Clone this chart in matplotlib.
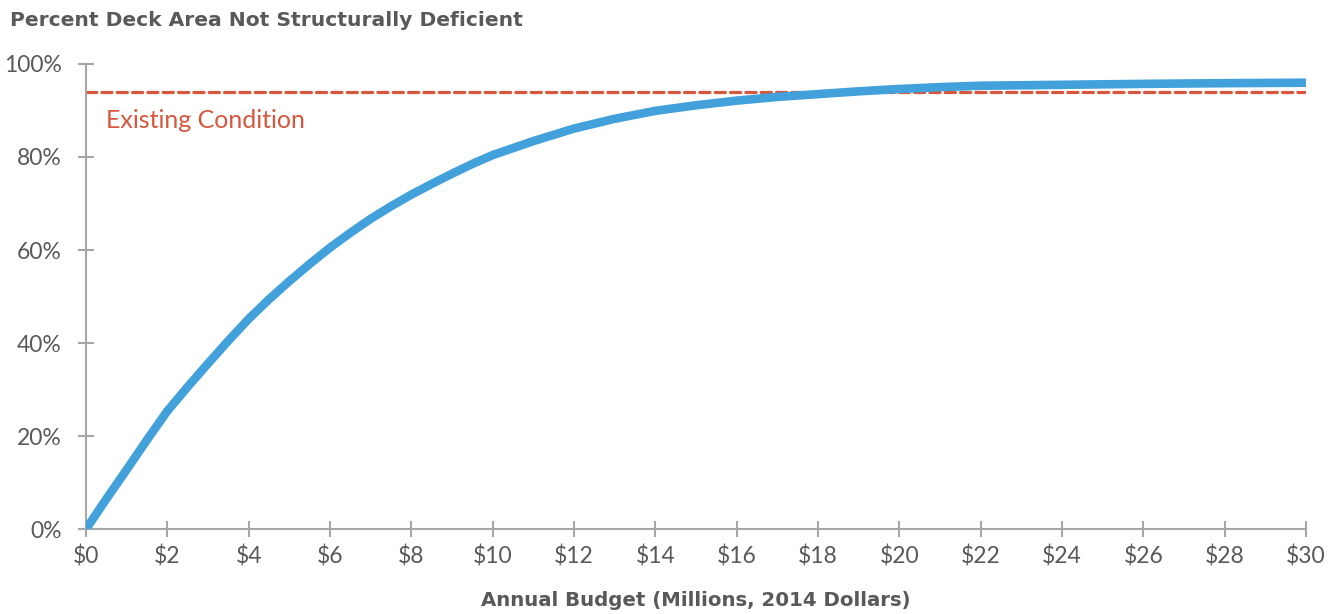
import numpy as np
import matplotlib.pyplot as plt

# budget in $M and percent of deck area not structurally deficient
budget = [0, 0.5, 1, 1.5, 2, 2.5, 3, 3.5, 4, 4.5, 5, 5.5, 6, 6.5, 7, 7.5, 8, 8.5, 9, 9.5,
          10, 11, 12, 13, 14, 15, 16, 17, 18, 19, 20, 21, 22, 24, 26, 28, 30]
pct_ok = [0, 6.5, 12.8, 19.2, 25.4, 30.6, 35.6, 40.5, 45.2, 49.4, 53.3, 57.0, 60.5, 63.7,
          66.7, 69.4, 71.9, 74.2, 76.4, 78.5, 80.4, 83.4, 86.1, 88.2, 89.9, 91.1, 92.1,
          92.9, 93.5, 94.1, 94.6, 95.0, 95.3, 95.5, 95.7, 95.85, 95.95]
existing = 94.0

xticks = list(range(0, 31, 2))
xlabels = ["$%d" % v for v in xticks]
yticks = [0, 20, 40, 60, 80, 100]
ylabels = ["%d%%" % v for v in yticks]

gray = "#595959"
axis_gray = "#a6a6a6"
blue = "#42a1db"
red = "#d6573d"

plt.rcParams['font.family'] = ['Lato', 'DejaVu Sans']

fig = plt.figure(figsize=(13.41, 6.14), dpi=100)
ax = fig.add_axes([0.0641, 0.138, 0.9099, 0.758])

ax.plot(budget, pct_ok, color=blue, lw=6.2, solid_capstyle='butt',
        solid_joinstyle='round', zorder=3)
ax.plot([0, 30], [existing, existing], color=red, lw=2.3,
        dashes=(3.2, 1.6), dash_capstyle='round', zorder=2)
ax.text(0.5, 87.8, "Existing Condition", color=red, fontsize=18, va='center', ha='left')

ax.set_xlim(0, 30)
ax.set_ylim(0, 100)
ax.set_xticks(xticks)
ax.set_xticklabels(xlabels)
ax.set_yticks(yticks)
ax.set_yticklabels(ylabels)

for s in ['top', 'right']:
    ax.spines[s].set_visible(False)
for s in ['left', 'bottom']:
    ax.spines[s].set_color(axis_gray)
    ax.spines[s].set_linewidth(1.5)
ax.tick_params(direction='inout', length=11, width=1.5, color=axis_gray,
               labelcolor=gray, labelsize=16.5)
ax.tick_params(axis='x', pad=6)
ax.tick_params(axis='y', pad=12)

fig.text(0.0075, 0.966, "Percent Deck Area Not Structurally Deficient", fontsize=14.6,
         fontweight='bold', color=gray, va='center', ha='left', family='DejaVu Sans')
fig.text(0.519, 0.022, "Annual Budget (Millions, 2014 Dollars)", fontsize=14.2,
         fontweight='bold', color=gray, va='center', ha='center', family='DejaVu Sans')

fig.savefig("out.png", dpi=100)
